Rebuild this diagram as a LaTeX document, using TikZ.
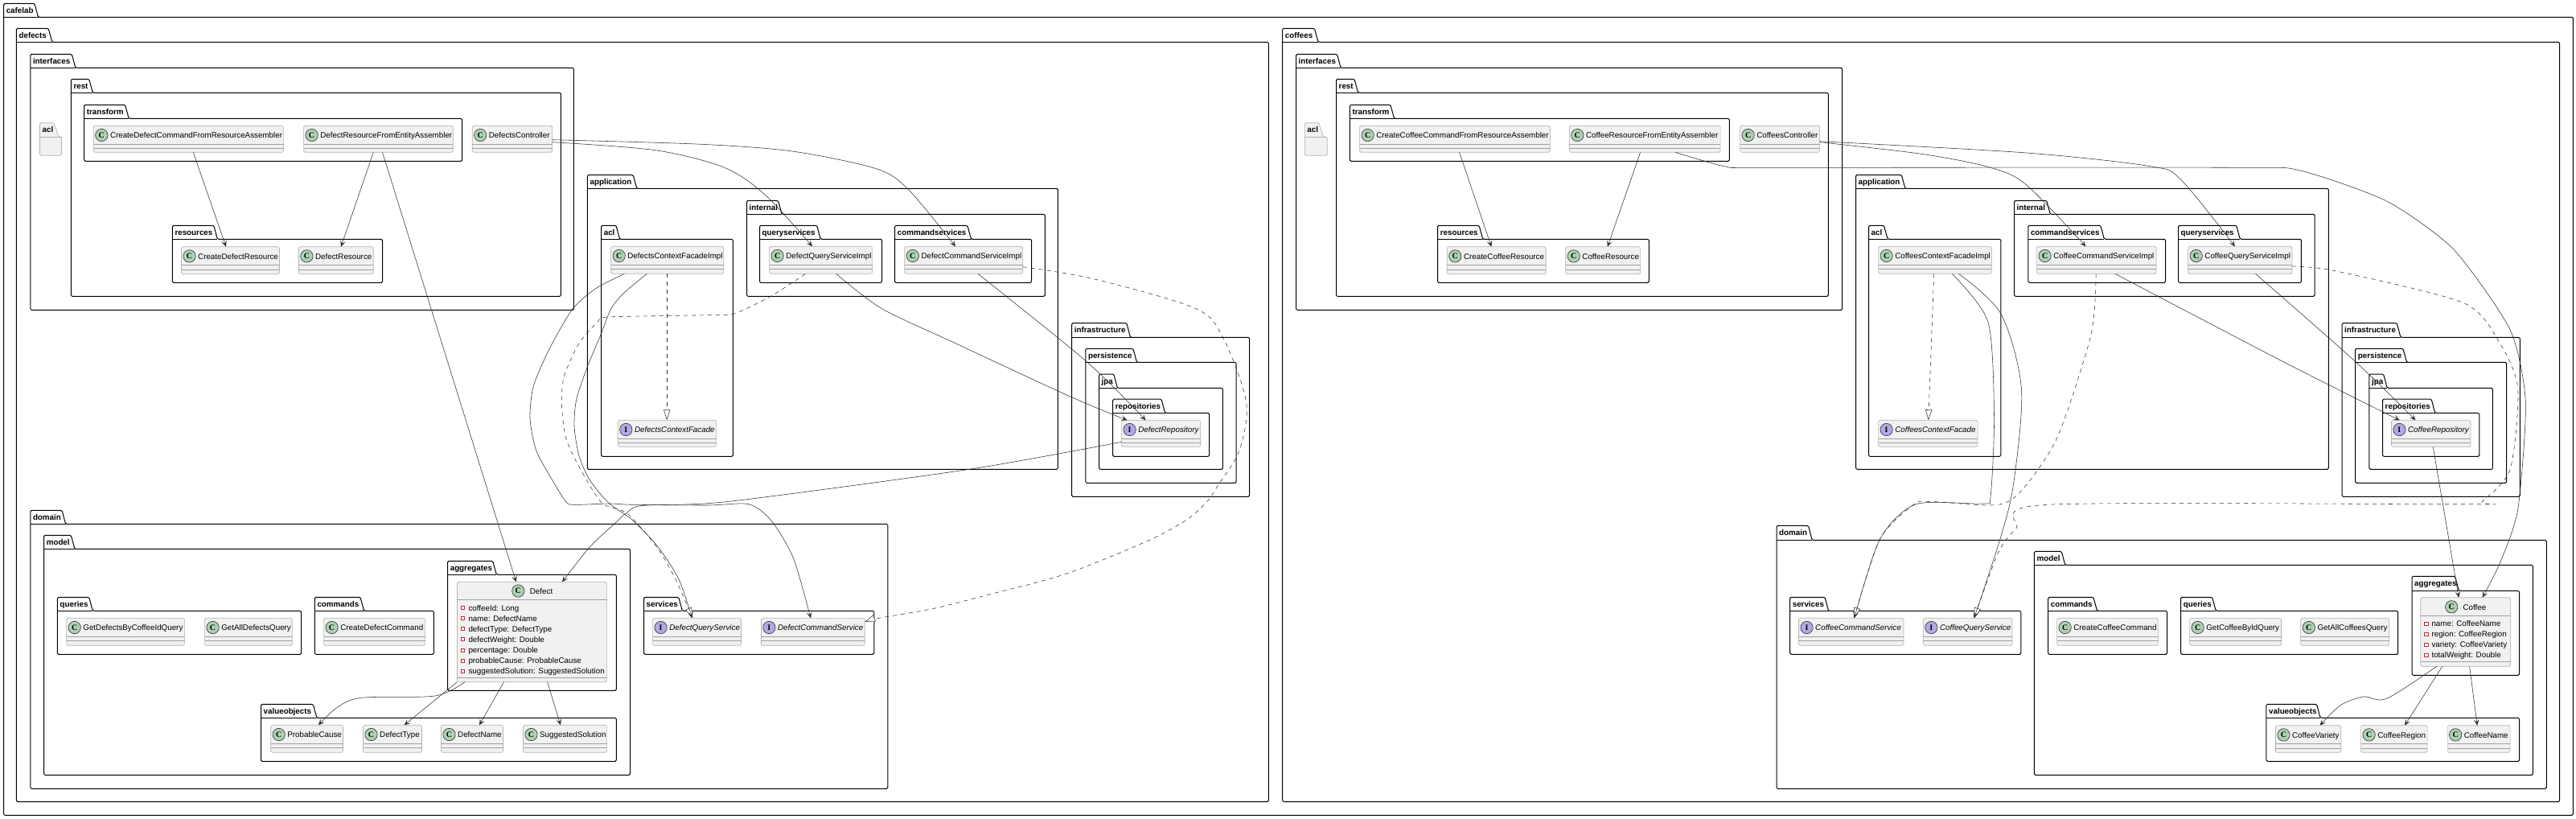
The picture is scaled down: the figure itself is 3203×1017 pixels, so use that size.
\documentclass[tikz,border=0pt]{standalone}
\usepackage{fontspec}
\setmainfont{Liberation Sans}
\newfontfamily\badgefont{Liberation Serif}
\usetikzlibrary{arrows.meta}
\definecolor{clsfill}{HTML}{F1F1F1}
\definecolor{clsline}{HTML}{B4B4B4}
\definecolor{divline}{HTML}{A0A0A0}
\definecolor{edgeline}{HTML}{2E2E2E}
\definecolor{badgeC}{HTML}{ADD1B2}
\definecolor{badgeI}{HTML}{B4A7E5}
\definecolor{privred}{HTML}{C82930}
\tikzset{
 clsframe/.style={draw=clsline,fill=clsfill,line width=.7pt,rounded corners=1.8pt,inner sep=0pt,outer sep=0pt},
 divider/.style={draw=divline,line width=.7pt},
 clstext/.style={inner sep=0pt,font=\fontsize{9.8}{11}\selectfont,text=black},
 itftext/.style={inner sep=0pt,font=\fontsize{9.8}{11}\selectfont\itshape,text=black},
 badgeclass/.style={circle,draw=edgeline,line width=.6pt,fill=badgeC,minimum size=15.4pt,inner sep=0pt,font=\badgefont\fontsize{10}{10}\selectfont\bfseries},
 badgeitf/.style={circle,draw=edgeline,line width=.6pt,fill=badgeI,minimum size=15.4pt,inner sep=0pt,font=\badgefont\fontsize{10}{10}\selectfont\bfseries},
 pkgframe/.style={draw=black,line width=1pt,rounded corners=1.5pt},
 pkgempty/.style={draw=clsline,fill=clsfill,line width=.7pt,rounded corners=1.5pt},
 pkgtext/.style={inner sep=0pt,font=\fontsize{9.8}{11}\selectfont\bfseries,text=black},
 privmark/.style={draw=privred,fill=white,line width=.7pt,minimum size=4.2pt,inner sep=0pt},
 assoc/.style={draw=edgeline,line width=.55pt,-{Stealth[length=7.5pt,width=6.5pt,inset=3.5pt]}},
 realize/.style={draw=edgeline,line width=.55pt,dash pattern=on 5pt off 5pt,-{Triangle[length=13pt,width=8.3pt,fill=white]}},
}
% id l tabtop tabright header r b label
\newcommand{\pkgbox}[8]{%
 \draw[pkgframe] (#2,#5) -- (#2,#3) -- (#4-4.6,#3) -- (#4,#5) -- (#6,#5) -- (#6,#7) -- (#2,#7) -- cycle;
 \draw[line width=1pt,draw=black] (#2,#5) -- (#4,#5);
 \node[pkgtext,anchor=base west] (#1) at (#2+3,#3+12) {#8};
}
\newcommand{\pkgemptybox}[8]{%
 \draw[pkgempty] (#2,#5) -- (#2,#3) -- (#4-6,#3) -- (#4,#5) -- (#6,#5) -- (#6,#7) -- (#2,#7) -- cycle;
 \draw[line width=.7pt,draw=clsline] (#2,#5) -- (#6,#5);
 \node[pkgtext,anchor=base west] (#1) at (#2+3,#3+12) {#8};
}
\newcommand{\clsgen}[8]{% id l t r b badgestyle c/i name
 \pgfmathsetmacro\cw{#4-#2}\pgfmathsetmacro\ch{#5-#3}%
 \node[clsframe,minimum width=\cw pt,minimum height=\ch pt,anchor=north west] (#1) at (#2,#3) {};
 \draw[divider] (#2,#3+23) -- (#4,#3+23);
 \draw[divider] (#2,#3+28.4) -- (#4,#3+28.4);
 \node[#6] (#1-badge) at (#2+10,#3+11.7) {\ifx#7c C\else I\fi};
 \ifx#7c\node[clstext,anchor=base west] (#1-name) at (#2+20.5,#3+15.5) {#8};
 \else\node[itftext,anchor=base west] (#1-name) at (#2+20.5,#3+15.5) {#8};\fi
}
\newcommand{\clsC}[6]{\clsgen{#1}{#2}{#3}{#4}{#5}{badgeclass}{c}{#6}}
\newcommand{\clsI}[6]{\clsgen{#1}{#2}{#3}{#4}{#5}{badgeitf}{i}{#6}}
\newcommand{\entitybox}[5]{%
 \pgfmathsetmacro\cw{#4-#2}\pgfmathsetmacro\ch{#5-#3}%
 \node[clsframe,minimum width=\cw pt,minimum height=\ch pt,anchor=north west] (#1) at (#2,#3) {};
}
\newcommand{\attrrow}[5]{% id markerx textx baseline text
 \node[privmark] (#1-mk) at (#2,#4-3.6) {};
 \node[clstext,anchor=base west] (#1) at (#3,#4) {#5};
}
\begin{document}
\begin{tikzpicture}[x=1pt,y=-1pt]
\useasboundingbox (0,0) rectangle (3203,1017);
% ---------- packages
\pkgbox{p-cafelab}{4.6}{4.3}{47.5}{21.3}{3199.3}{1013.3}{cafelab}
\pkgbox{p-defects}{20.4}{35.3}{64.8}{52.3}{1577.3}{996.5}{defects}
\pkgbox{p-coffees}{1594.7}{35.3}{1639}{52.3}{3182.7}{996.5}{coffees}
% defects
\pkgbox{p-dint}{37.8}{67.3}{93.9}{84.3}{713.3}{385.3}{interfaces}
\pkgbox{p-drest}{88.3}{98.3}{115.3}{115.3}{697.4}{368.3}{rest}
\pkgbox{p-dtrans}{104.6}{130.3}{160.2}{147.3}{574.5}{200.3}{transform}
\pkgbox{p-dres}{214.3}{280.3}{270.4}{297.3}{475.5}{351.3}{resources}
\pkgemptybox{p-dacl0}{49.5}{152.7}{73}{170.3}{76.5}{193.3}{acl}
\pkgbox{p-dapp}{730.4}{217.3}{791.8}{234.3}{1315.4}{583.3}{application}
\pkgbox{p-dintl}{928.5}{249.3}{972.1}{266.3}{1299.3}{368.3}{internal}
\pkgbox{p-dacl}{747.6}{280.3}{770.6}{297.3}{911.3}{567.3}{acl}
\pkgbox{p-dqs}{944.5}{280.3}{1020.3}{297.3}{1096.7}{351.3}{queryservices}
\pkgbox{p-dcs}{1112.7}{280.3}{1207.5}{297.3}{1282.7}{351.3}{commandservices}
\pkgbox{p-dinf}{1332.6}{401.7}{1405.5}{419.3}{1553.6}{617.3}{infrastructure}
\pkgbox{p-dper}{1349.8}{433.3}{1413.5}{450.3}{1537}{600.3}{persistence}
\pkgbox{p-djpa}{1366.5}{465}{1389.4}{482.3}{1520.3}{583.3}{jpa}
\pkgbox{p-drep}{1383.7}{496}{1448.6}{513.3}{1503.7}{567.3}{repositories}
\pkgbox{p-ddom}{37.8}{634.3}{81.6}{651.3}{1103.8}{980.3}{domain}
\pkgbox{p-dmod}{54.6}{665.3}{92.9}{682.3}{783.5}{963.3}{model}
\pkgbox{p-dagg}{556.6}{697.3}{617.3}{714.3}{766.3}{858.3}{aggregates}
\pkgbox{p-dqry}{71.4}{742.3}{115.3}{759.3}{374.5}{813.3}{queries}
\pkgbox{p-dcmd}{391.3}{742.3}{452.6}{759.3}{539.3}{813.3}{commands}
\pkgbox{p-dval}{324.5}{875.3}{393.9}{892.3}{766.3}{946.3}{valueobjects}
\pkgbox{p-dsvc}{800.5}{742.3}{848.4}{759.3}{1086.8}{813.3}{services}
% coffees
\pkgbox{p-cint}{1611.5}{67.3}{1667.1}{84.3}{2290.6}{385.3}{interfaces}
\pkgbox{p-crest}{1661.5}{98.3}{1688.6}{115.3}{2273.3}{368.3}{rest}
\pkgbox{p-ctrans}{1678.4}{130.3}{1733.5}{147.3}{2150.3}{200.3}{transform}
\pkgbox{p-cres}{1787.6}{280.3}{1843.7}{297.3}{2050.3}{351.3}{resources}
\pkgemptybox{p-cacl0}{1622.2}{152.7}{1645.7}{170.3}{1650.3}{193.3}{acl}
\pkgbox{p-capp}{2307.5}{217.3}{2368.9}{234.3}{2895.3}{583.3}{application}
\pkgbox{p-cintl}{2504.5}{249.3}{2549.3}{266.3}{2878.1}{368.3}{internal}
\pkgbox{p-cacl}{2323.5}{280.3}{2347.1}{297.3}{2487.9}{567.3}{acl}
\pkgbox{p-ccs}{2521.8}{280.3}{2616.4}{297.3}{2692.6}{351.3}{commandservices}
\pkgbox{p-cqs}{2708.5}{280.3}{2785.3}{297.3}{2861.4}{351.3}{queryservices}
\pkgbox{p-cinf}{2912}{401.7}{2984.9}{419.3}{3133.3}{617.3}{infrastructure}
\pkgbox{p-cper}{2928.6}{433.3}{2992.5}{450.3}{3116.7}{600.3}{persistence}
\pkgbox{p-cjpa}{2945.9}{465}{2968.2}{482.3}{3099.4}{583.3}{jpa}
\pkgbox{p-crep}{2962.5}{496}{3027.7}{513.3}{3082.8}{567.3}{repositories}
\pkgbox{p-cdom}{2209}{653.3}{2253.1}{671.3}{3166.3}{980.3}{domain}
\pkgbox{p-cmod}{2529.4}{685.3}{2567.8}{702.3}{3149.3}{963.3}{model}
\pkgbox{p-cagg}{2999}{716.3}{3057.2}{734.3}{3132.5}{839.3}{aggregates}
\pkgbox{p-csvc}{2225.6}{742.3}{2273.6}{759.3}{2512.8}{813.3}{services}
\pkgbox{p-ccmd}{2546.7}{742.3}{2607.5}{759.3}{2694.5}{813.3}{commands}
\pkgbox{p-cqry}{2711.7}{742.3}{2755.2}{759.3}{2981.7}{813.3}{queries}
\pkgbox{p-cval}{2817.9}{875.3}{2885.1}{892.3}{3132.5}{946.3}{valueobjects}
% ---------- classes: defects
\clsC{cdcra}{116.3}{156.3}{352.6}{189.3}{CreateDefectCommandFromResourceAssembler}
\clsC{drfea}{377.6}{156.3}{563.3}{189.3}{DefectResourceFromEntityAssembler}
\clsC{dctrl}{587.2}{156.3}{686.7}{189.3}{DefectsController}
\clsC{cdr}{225.5}{306.7}{347.4}{340.7}{CreateDefectResource}
\clsC{dres}{371.4}{306.7}{464.3}{340.7}{DefectResource}
\clsC{dcfi}{759.7}{306.3}{899.8}{340.3}{DefectsContextFacadeImpl}
\clsC{dqsi}{956.6}{306.3}{1084.6}{340.3}{DefectQueryServiceImpl}
\clsC{dcsi}{1124.8}{306.3}{1271.8}{340.3}{DefectCommandServiceImpl}
\clsI{dcf}{768.3}{522.3}{890.6}{555.3}{DefectsContextFacade}
\clsI{drepo}{1394.6}{522.3}{1492.8}{555.3}{DefectRepository}
\clsC{gdbc}{82.7}{768.3}{229.6}{802.3}{GetDefectsByCoffeeIdQuery}
\clsC{gadq}{254.6}{768.3}{363.3}{802.3}{GetAllDefectsQuery}
\clsC{cdc}{402.6}{768.3}{528.6}{802.3}{CreateDefectCommand}
\clsC{dpc}{336.7}{901.3}{426.5}{935.3}{ProbableCause}
\clsC{dtype}{451.5}{901.3}{524.5}{935.3}{DefectType}
\clsC{dname}{548.5}{901.3}{625.5}{935.3}{DefectName}
\clsC{dsol}{650.5}{901.3}{754.6}{935.3}{SuggestedSolution}
\clsI{dqs}{811.6}{768.3}{921.5}{802.3}{DefectQueryService}
\clsI{dcs}{946.4}{768.3}{1075.3}{802.3}{DefectCommandService}
% Defect entity
\entitybox{defect}{568.4}{723.3}{754.6}{847.7}
\draw[divider] (568.4,745.3) -- (754.6,745.3);
\draw[divider] (568.4,842.3) -- (754.6,842.3);
\node[badgeclass] (defect-badge) at (644.3,734.5) {C};
\node[clstext,anchor=base west] (defect-name) at (658.7,738.7) {Defect};
\attrrow{da1}{575.5}{582.3}{759.3}{coffeeId: Long}
\attrrow{da2}{575.5}{582.3}{772.3}{name: DefectName}
\attrrow{da3}{575.5}{582.3}{785.3}{defectType: DefectType}
\attrrow{da4}{575.5}{582.3}{798.3}{defectWeight: Double}
\attrrow{da5}{575.5}{582.3}{811.6}{percentage: Double}
\attrrow{da6}{575.5}{582.3}{824.6}{probableCause: ProbableCause}
\attrrow{da7}{575.5}{582.3}{837.6}{suggestedSolution: SuggestedSolution}
% ---------- classes: coffees
\clsC{ccfra}{1690.6}{156.3}{1927.3}{189.3}{CreateCoffeeCommandFromResourceAssembler}
\clsC{crfea}{1951.3}{156.3}{2139.1}{189.3}{CoffeeResourceFromEntityAssembler}
\clsC{cctrl}{2163.6}{156.3}{2262.6}{189.3}{CoffeesController}
\clsC{ccr}{1799.3}{306.7}{1922.2}{340.7}{CreateCoffeeResource}
\clsC{cres}{1946.7}{306.7}{2039.6}{340.7}{CoffeeResource}
\clsC{ccfi}{2335.6}{306.3}{2476.3}{340.3}{CoffeesContextFacadeImpl}
\clsC{ccsi}{2532.6}{306.3}{2681}{340.3}{CoffeeCommandServiceImpl}
\clsC{cqsi}{2720.7}{306.3}{2849.9}{340.3}{CoffeeQueryServiceImpl}
\clsI{ccf}{2335.6}{522.3}{2459.1}{555.3}{CoffeesContextFacade}
\clsI{crepo}{2973.4}{522.3}{3071.9}{555.3}{CoffeeRepository}
\clsI{ccs}{2236.5}{768.3}{2367}{802.3}{CoffeeCommandService}
\clsI{cqs}{2391.3}{768.3}{2501.9}{802.3}{CoffeeQueryService}
\clsC{ccc}{2557.6}{768.3}{2683.6}{802.3}{CreateCoffeeCommand}
\clsC{gcbi}{2722.6}{768.3}{2836.5}{802.3}{GetCoffeeByIdQuery}
\clsC{gacq}{2860.8}{768.3}{2970.8}{802.3}{GetAllCoffeesQuery}
\clsC{cvar}{2829.4}{901.7}{2910.7}{935.3}{CoffeeVariety}
\clsC{creg}{2935.6}{901.7}{3018.1}{935.3}{CoffeeRegion}
\clsC{cname}{3043.1}{901.7}{3121.1}{935.3}{CoffeeName}
% Coffee entity
\entitybox{coffee}{3009.8}{742.7}{3121.8}{828.3}
\draw[divider] (3009.8,765) -- (3121.8,765);
\draw[divider] (3009.8,822.3) -- (3121.8,822.3);
\node[badgeclass] (coffee-badge) at (3048.2,754.3) {C};
\node[clstext,anchor=base west] (coffee-name) at (3062.3,758.3) {Coffee};
\attrrow{ca1}{3016.9}{3023.3}{778.9}{name: CoffeeName}
\attrrow{ca2}{3016.9}{3023.3}{791.9}{region: CoffeeRegion}
\attrrow{ca3}{3016.9}{3023.3}{804.9}{variety: CoffeeVariety}
\attrrow{ca4}{3016.9}{3023.3}{817.9}{totalWeight: Double}
% ---------- connectors: defects
\draw[assoc] ([xshift=124]cdcra.south west) -- ([xshift=55.5]cdr.north west);
\draw[assoc] ([xshift=86.7]drfea.south west) -- ([xshift=52.6]dres.north west);
\draw[assoc] ([xshift=97.9]drfea.south west) -- ([xshift=73.4]defect.north west);
\draw[assoc] plot[smooth] coordinates {([yshift=12.6]dctrl.south east) (814.8,186.7) (900.9,208.3) (952.6,243.3) ([xshift=53.4]dqsi.north west)};
\draw[assoc] plot[smooth] coordinates {([yshift=15.6]dctrl.south east) (872.2,179.3) (987,188.3) (1090.4,210) (1130.5,236.7) ([xshift=63.2]dcsi.north west)};
\draw[assoc] plot[smooth] coordinates {([xshift=83.2]dqsi.south west) (1096,383.3) (1188,426.7) (1331.5,493.3) ([xshift=6.9]drepo.north west)};
\draw[assoc] plot[smooth] coordinates {([xshift=91.2]dcsi.south west) (1351.6,450) ([xshift=29.9]drepo.north west)};
\draw[realize] ([xshift=69.5]dcfi.south west) -- ([xshift=60.9]dcf.north west);
\draw[realize] plot[smooth,tension=.45] coordinates {([xshift=44.8]dqsi.south west) (958.3,368.3) (912.4,390) (880,391.7) (756.7,394) (743.3,400) (720,426.7) (701.7,466.7) (698.3,500) (703.3,543.3) (720,580) (748.3,625) (780,638.3) (816.7,680) (840,720) ([xshift=49.5]dqs.north west)};
\draw[realize] plot[smooth] coordinates {([yshift=8.6]dcsi.south east) (1360,346.7) (1486.4,383.3) (1520.9,420) (1549.6,500) (1541,560) (1514.4,603.3) (1501,623.3) (1474.6,646.7) (1424.8,673.3) (1325.3,713.3) (1225.8,740) (1159.5,756.7) (1093.2,768.3) ([yshift=-4.7]dcs.north east)};
\draw[assoc] plot[smooth,tension=.45] coordinates {([xshift=16.6]dcfi.south west) (746.7,355) (730,366.7) (710,386.7) (683.3,433.3) (663.3,480) (659,520) (666.7,560) (686.7,596.7) (703.3,623.3) (711.7,627.3) (736.7,626.7) (760,626) (786.7,627.3) (880,628) (931,626.7) (958.7,646.7) (986.3,693.3) ([xshift=61.6]dcs.north west)};
\draw[assoc] plot[smooth,tension=.45] coordinates {([xshift=44.8]dcfi.south west) (776.7,363.3) (760,383.3) (746.7,416.7) (730,456.7) (716.7,496.7) (714,530) (720,566.7) (733.3,596.7) (756.7,625) (786.7,646.7) (818.3,680) (844,720) ([xshift=49]dqs.north west)};
\draw[assoc] plot[smooth,tension=.45] coordinates {([yshift=6]drepo.south west) (1205.2,583.3) (906.7,623.3) (800,628.3) (780,636.7) (763.3,651.7) (733.3,680) ([xshift=130.6]defect.north west)};
\draw[assoc] plot[smooth,tension=.5] coordinates {([xshift=9.5]defect.south west) (540.8,865) (449,867.3) (418.4,880) ([xshift=59.2]dpc.north west)};
\draw[assoc] (defect.south west) -- ([xshift=51.1]dtype.north west);
\draw[assoc] ([xshift=58.1]defect.south west) -- ([xshift=47.5]dname.north west);
\draw[assoc] ([xshift=112.2]defect.south west) -- ([xshift=46.5]dsol.north west);
% ---------- connectors: coffees
\draw[assoc] ([xshift=124]ccfra.south west) -- ([xshift=55.1]ccr.north west);
\draw[assoc] ([xshift=88.3]crfea.south west) -- ([xshift=52.1]cres.north west);
\draw[assoc] plot[smooth,tension=.4] coordinates {([xshift=131.7]crfea.south west) (2146.7,207.3) (2200,208.3) (2775.7,208.3) (2858.9,211.7) (2967.6,250) (3050.8,310) (3121.1,410) (3140.3,500) (3130.7,633.3) (3108.3,700) ([xshift=76.8]coffee.north west)};
\draw[assoc] plot[smooth] coordinates {([yshift=12.6]cctrl.south east) (2391.9,191.7) (2475.1,208.3) (2519.8,230) ([xshift=60.8]ccsi.north west)};
\draw[assoc] plot[smooth] coordinates {([yshift=13.6]cctrl.south east) (2519.8,190) (2673.4,206.7) (2711.7,223.3) ([xshift=58.2]cqsi.north west)};
\draw[assoc] plot[smooth] coordinates {([xshift=97.3]ccsi.south west) (2839.7,450) ([xshift=10.2]crepo.north west)};
\draw[assoc] plot[smooth] coordinates {([xshift=83.8]cqsi.south west) (2929.2,450) ([xshift=30]crepo.north west)};
\draw[realize] ([xshift=69.1]ccfi.south west) -- ([xshift=62.1]ccf.north west);
\draw[realize] plot[smooth,tension=.45] coordinates {([xshift=73.6]ccsi.south west) (2599.8,416.7) (2558.2,543.3) (2513.4,610) (2481.5,627.7) (2398.3,623.3) (2379.1,627.3) (2337.5,670) ([xshift=69]ccs.north west)};
\draw[realize] plot[smooth,tension=.45] coordinates {([yshift=9.3]cqsi.south east) (2903.6,336.7) (3063.6,376.7) (3108.3,426.7) (3130.7,483.3) (3121.1,583.3) (3086,623.3) (3070,626.7) (2545.4,627.3) (2507,656.7) (2484.7,686.7) ([xshift=63.3]cqs.north west)};
\draw[assoc] plot[smooth,tension=.45] coordinates {([xshift=91.5]ccfi.south west) (2471.9,400) (2479.5,516.7) (2475.1,616.7) (2465.5,626) (2382.3,626.7) (2337.5,670) ([xshift=69]ccs.north west)};
\draw[assoc] plot[smooth] coordinates {([xshift=99.8]ccfi.south west) (2487.9,390) (2513.4,483.3) (2503.8,600) (2487.9,666.7) ([xshift=63.3]cqs.north west)};
\draw[assoc] ([xshift=51.8]crepo.south west) -- ([xshift=47.4]coffee.north west);
\draw[assoc] plot[smooth,tension=.5] coordinates {([xshift=19.9]coffee.south west) (2967.6,868.3) (2938.8,866) (2910,876.7) ([xshift=55.1]cvar.north west)};
\draw[assoc] ([xshift=26.9]coffee.south west) -- ([xshift=54.4]creg.north west);
\draw[assoc] ([xshift=60.8]coffee.south west) -- ([xshift=37.1]cname.north west);
\end{tikzpicture}
\end{document}
